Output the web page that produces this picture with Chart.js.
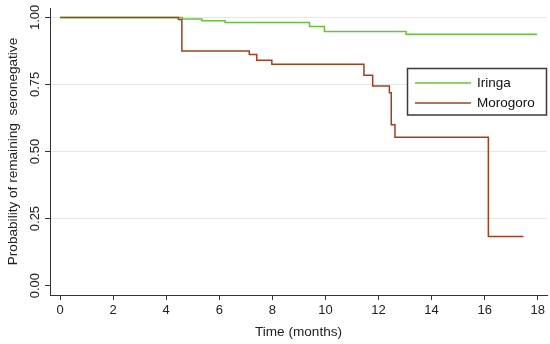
<!DOCTYPE html>
<html>
<head>
<meta charset="utf-8">
<script src="https://cdn.jsdelivr.net/npm/chart.js@4.4.0/dist/chart.umd.min.js"></script>
<style>
html, body { margin: 0; padding: 0; background: #fff; }
</style>
</head>
<body>
<canvas id="myChart" width="550" height="344"></canvas>
<script>
'use strict';
// Kaplan-Meier steps (time in months, probability)
const iringaTime = [0, 4.6, 5.34, 6.22, 9.4, 9.96, 13.04, 17.97];
const iringaProb = [1, 0.994, 0.987, 0.981, 0.966, 0.947, 0.937, 0.937];
const morogoroTime = [0, 4.46, 4.59, 7.13, 7.41, 7.98, 11.45, 11.78, 12.41, 12.48, 12.62, 16.14, 17.46];
const morogoroProb = [1, 0.992, 0.875, 0.862, 0.84, 0.825, 0.784, 0.744, 0.719, 0.6, 0.553, 0.183, 0.183];
const groups = ['Iringa', 'Morogoro'];
const colors = ['#66c43a', '#a0401f'];
const xTicks = [0, 2, 4, 6, 8, 10, 12, 14, 16, 18];
const yTicks = [0, 0.25, 0.5, 0.75, 1];

const fontFam = '"Liberation Sans", Arial, sans-serif';
const axisDark = '#333';

function toPoints(xs, ys) {
    let pts = [];
    for (let i = 0; i < xs.length; i++) {
        pts.push({ x: xs[i], y: ys[i] });
    }
    return pts;
}

// legend drawn as a boxed key inside the plot, like the stata one
const legendBox = {
    id: 'legendBox',
    afterDraw(chart) {
        const ctx = chart.ctx;
        ctx.save();
        ctx.fillStyle = '#fff';
        ctx.fillRect(407, 68, 140, 47);
        ctx.strokeStyle = '#3a3a3a';
        ctx.lineWidth = 1.5;
        ctx.strokeRect(407.5, 68.5, 139, 46.5);
        ctx.font = '13.5px ' + fontFam;
        ctx.textBaseline = 'middle';
        chart.data.datasets.forEach(function (ds, i) {
            const y = 83 + i * 20;
            ctx.strokeStyle = ds.borderColor;
            ctx.lineWidth = 1.5;
            ctx.beginPath();
            ctx.moveTo(415, y);
            ctx.lineTo(471, y);
            ctx.stroke();
            ctx.fillStyle = '#111';
            ctx.fillText(ds.label, 477, y);
        });
        ctx.restore();
    }
};

const context = document.getElementById('myChart').getContext('2d');
const chart = new Chart(context, {
    type: 'line',
    data: {
        datasets: [
            {
                label: groups[0],
                data: toPoints(iringaTime, iringaProb),
                borderColor: colors[0],
                borderWidth: 1.5,
                stepped: true,
                pointRadius: 0,
                fill: false,
                order: 1
            },
            {
                label: groups[1],
                data: toPoints(morogoroTime, morogoroProb),
                borderColor: colors[1],
                borderWidth: 1.5,
                stepped: true,
                pointRadius: 0,
                fill: false,
                order: 0
            }
        ]
    },
    options: {
        responsive: false,
        devicePixelRatio: 1,
        animation: false,
        layout: { padding: { top: 8, right: 3, left: 0, bottom: 0 } },
        plugins: {
            legend: { display: false },
            tooltip: { enabled: false }
        },
        scales: {
            x: {
                type: 'linear',
                min: -0.38,
                max: 18.35,
                afterBuildTicks: function (s) { s.ticks = xTicks.map(v => ({ value: v })); },
                afterFit: function (s) { s.height = 49; },
                grid: { drawOnChartArea: false, tickLength: 5, tickColor: axisDark, tickWidth: 1 },
                border: { color: axisDark, width: 1 },
                ticks: {
                    font: { family: fontFam, size: 13 },
                    color: '#222',
                    padding: 3,
                    maxRotation: 0,
                    autoSkip: false
                },
                title: {
                    display: true,
                    text: 'Time (months)',
                    font: { family: fontFam, size: 13.6 },
                    color: '#222',
                    padding: { top: 0, bottom: 4 }
                }
            },
            y: {
                type: 'linear',
                min: -0.035,
                max: 1.035,
                afterBuildTicks: function (s) { s.ticks = yTicks.map(v => ({ value: v })); },
                afterFit: function (s) { s.width = 50; },
                grid: {
                    color: function (c) { return (c.tick && c.tick.value === 0) ? 'rgba(0,0,0,0)' : '#e2e9eb'; },
                    lineWidth: 1,
                    tickLength: 5,
                    tickColor: axisDark
                },
                border: { color: axisDark, width: 1 },
                ticks: {
                    font: { family: fontFam, size: 13 },
                    color: '#222',
                    minRotation: 90,
                    maxRotation: 90,
                    crossAlign: 'center',
                    padding: -3,
                    autoSkip: false,
                    callback: function (v) { return Number(v).toFixed(2); }
                },
                title: {
                    display: true,
                    text: 'Probability of remaining  seronegative',
                    font: { family: fontFam, size: 13.6 },
                    color: '#222',
                    padding: { top: 5, bottom: 0 }
                }
            }
        }
    },
    plugins: [legendBox]
});
</script>
</body>
</html>
